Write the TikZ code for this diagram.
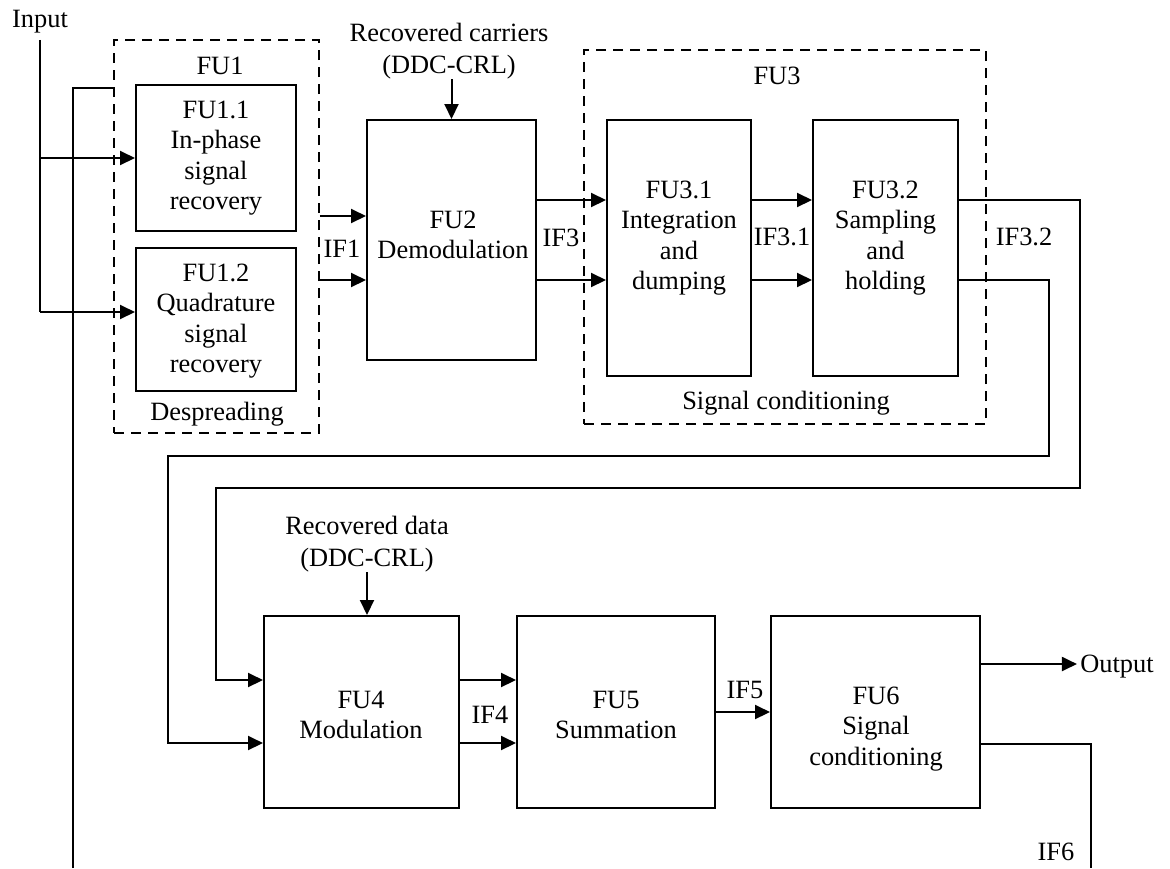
\documentclass[tikz,border=0pt]{standalone}
\usepackage{fontspec}
\setmainfont{Liberation Serif}
\usetikzlibrary{arrows.meta}
\begin{document}
\begin{tikzpicture}[x=0.5pt,y=-0.5pt,
  every node/.style={font=\fontsize{13.2}{15.2}\selectfont, inner sep=0pt, align=center},
  box/.style={draw, line width=1pt},
  grp/.style={draw, dash pattern=on 5pt off 3.5pt, line width=0.9pt},
  conn/.style={line width=1pt},
  arr/.style={conn, -{Triangle[length=7.5pt,width=7pt]}}]
\useasboundingbox (0,0) rectangle (1170,868);
% helper rows
\coordinate (r200) at (0,200);
\coordinate (r216) at (0,216);
\coordinate (r280) at (0,280);
\coordinate (r312) at (0,312);
\coordinate (r680) at (0,680);
\coordinate (r743) at (0,743);
\coordinate (r664) at (0,664);
\coordinate (r744) at (0,744);
\coordinate (r88) at (0,88);
% groups
\node[grp, minimum width=102.5pt, minimum height=196.5pt] (fu1) at (216.5,236.5) {};
\node[grp, minimum width=201pt, minimum height=187pt] (fu3) at (785,237) {};
\node (fu1lbl) at (220,66) {FU1};
\node (desp) at (217,414) {Despreading};
\node (fu3lbl) at (777,76) {FU3};
\node (sigc) at (786,403) {Signal conditioning};
% boxes
\node[box, minimum width=80pt, minimum height=73pt] (fu11) at (216,158) {};
\node[box, minimum width=80pt, minimum height=71.5pt] (fu12) at (216,319.5) {};
\node[box, minimum width=84.5pt, minimum height=120pt] (fu2) at (451.5,240) {};
\node[box, minimum width=72pt, minimum height=128pt] (fu31) at (679,248) {};
\node[box, minimum width=72.5pt, minimum height=128pt] (fu32) at (885.5,248) {};
\node[box, minimum width=97.5pt, minimum height=96pt] (fu4) at (361.5,712) {};
\node[box, minimum width=99pt, minimum height=96pt] (fu5) at (616,712) {};
\node[box, minimum width=104.5pt, minimum height=96pt] (fu6) at (875.5,712) {};
% box texts
\node (t11) at (216,158) {FU1.1\\In-phase\\signal\\recovery};
\node (t12) at (216,321) {FU1.2\\Quadrature\\signal\\recovery};
\node (t2) at (453,235) {FU2\\Demodulation};
\node (t31) at (679,238) {FU3.1\\Integration\\and\\dumping};
\node (t32) at (885.5,238) {FU3.2\\Sampling\\and\\holding};
\node (t4) at (361,715) {FU4\\Modulation};
\node (t5) at (616,715) {FU5\\Summation};
\node (t6) at (876,729) {FU6\\Signal\\conditioning};
% labels
\node (input) at (40,22) {Input};
\node (output) at (1117,667) {Output};
\node[font=\fontsize{13.2}{16}\selectfont] (carr) at (449,51) {Recovered carriers\\(DDC-CRL)};
\node[font=\fontsize{13.2}{16}\selectfont] (data) at (367,544) {Recovered data\\(DDC-CRL)};
\node (if1) at (342,249) {IF1};
\node (if3) at (561,238) {IF3};
\node (if31) at (782,237) {IF3.1};
\node (if32) at (1024,237) {IF3.2};
\node (if4) at (490,715) {IF4};
\node (if5) at (745,690) {IF5};
\node (if6) at (1056,852) {IF6};
% connectors
\draw[conn, shorten <=3pt] (input.south) -- (input.south |- r312);
\draw[arr] (input.south |- fu11.west) -- (fu11.west);
\draw[arr] (input.south |- r312) -- (fu12.west |- r312);
\draw[arr] (fu1.east |- r216) -- (fu2.west |- r216);
\draw[arr] (fu1.east |- r280) -- (fu2.west |- r280);
\draw[arr] (carr.south -| fu2.north) -- (fu2.north);
\draw[arr] (fu2.east |- r200) -- (fu31.west |- r200);
\draw[arr] (fu2.east |- r280) -- (fu31.west |- r280);
\draw[arr] (fu31.east |- r200) -- (fu32.west |- r200);
\draw[arr] (fu31.east |- r280) -- (fu32.west |- r280);
\draw[arr] (fu32.east |- r200) -| (1080,488) -| (216,680) -- (fu4.west |- r680);
\draw[arr] (fu32.east |- r280) -| (1049,456) -| (168,743) -- (fu4.west |- r743);
\draw[arr] (data.south) -- (data.south |- fu4.north);
\draw[arr] (fu4.east |- r680) -- (fu5.west |- r680);
\draw[arr] (fu4.east |- r743) -- (fu5.west |- r743);
\draw[arr] (fu5.east) -- (fu6.west);
\draw[arr] (fu6.east |- r664) -- ([xshift=-1.5pt]output.west |- r664);
\draw[conn] (fu6.east |- r744) -| (1091,868);
\draw[conn] (73,868) |- (fu1.west |- r88);
\end{tikzpicture}
\end{document}
